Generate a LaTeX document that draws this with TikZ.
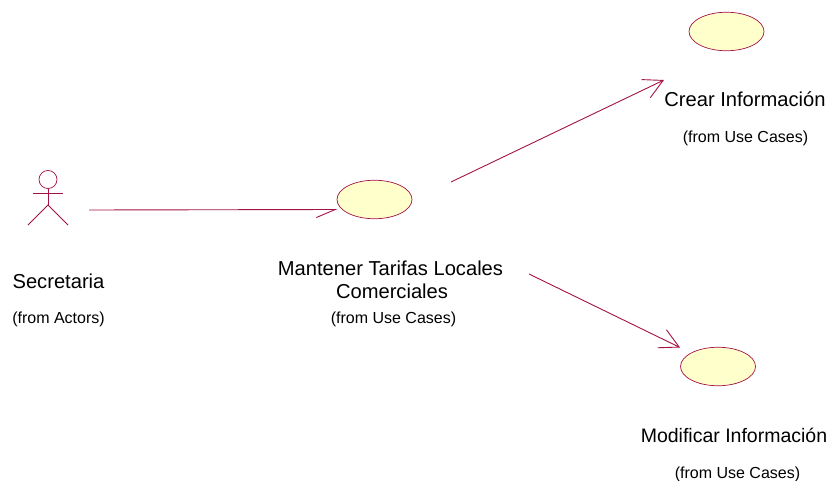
\documentclass[tikz,border=0pt]{standalone}
\usepackage{fontspec}
\setmainfont{Liberation Sans}
\usetikzlibrary{arrows.meta,shapes.geometric}
\definecolor{umlline}{HTML}{A31246}
\definecolor{umlfill}{HTML}{FFFFCB}
\tikzset{
  usecase/.style={ellipse,draw=umlline,fill=umlfill,line width=0.7pt,minimum width=75pt,minimum height=38.5pt,inner sep=0pt},
  limb/.style={draw=umlline,line width=1pt},
  assoc/.style={draw=umlline,line width=0.9pt,-{Straight Barb[length=19pt,width=20pt,line width=0.9pt]}},
  assochalf/.style={draw=umlline,line width=0.9pt,-{Straight Barb[right,length=19pt,width=16pt,line width=0.9pt]}},
  bigtext/.style={font=\fontsize{20.15pt}{23pt}\selectfont,inner sep=0pt,anchor=base},
  edgetext/.style={font=\fontsize{19.5pt}{23pt}\selectfont,inner sep=0pt,anchor=base},
  smalltext/.style={font=\fontsize{16pt}{18pt}\selectfont,inner sep=0pt,anchor=base},
}
\begin{document}
\begin{tikzpicture}[x=1pt,y=-1pt]
\useasboundingbox (0,0) rectangle (829,481);
% actor
\node[circle,draw=umlline,line width=0.7pt,minimum size=18pt,inner sep=0pt] (head) at (48,179.5) {};
\coordinate (armL) at (33,193);
\coordinate (armR) at (63,193);
\coordinate (hip) at (48,205);
\coordinate (legL) at (28,225);
\coordinate (legR) at (68,225);
\draw[limb] (head.south) -- (hip);
\draw[limb] (armL) -- (armR);
\draw[limb] (legL) -- (hip) -- (legR);
% use cases
\node[usecase] (main) at (374.5,199.5) {};
\node[usecase] (crear) at (726.5,31.5) {};
\node[usecase] (modif) at (718,366.5) {};
% connector ends
\coordinate (a1s) at (89,210);
\coordinate (a1e) at (337.5,209.5);
\coordinate (a2s) at (451,182);
\coordinate (a2e) at (664,80);
\coordinate (a3s) at (529,274);
\coordinate (a3e) at (680,347.5);
\draw[assochalf] (a1s) -- (a1e);
\draw[assoc] (a2s) -- (a2e);
\draw[assoc] (a3s) -- (a3e);
% labels
\node[bigtext] (t1) at (58.5,288) {Secretaria};
\node[smalltext] (t2) at (58.5,323) {(from Actors)};
\node[bigtext] (t3) at (390.5,275) {Mantener Tarifas Locales};
\node[bigtext] (t4) at (392,298) {Comerciales};
\node[smalltext] (t5) at (393.5,323) {(from Use Cases)};
\node[bigtext] (t6) at (745,107) {Crear Información};
\node[smalltext] (t7) at (745.5,143) {(from Use Cases)};
\node[edgetext] (t8) at (734,442) {Modificar Información};
\node[smalltext] (t9) at (737.5,478) {(from Use Cases)};
\end{tikzpicture}
\end{document}
